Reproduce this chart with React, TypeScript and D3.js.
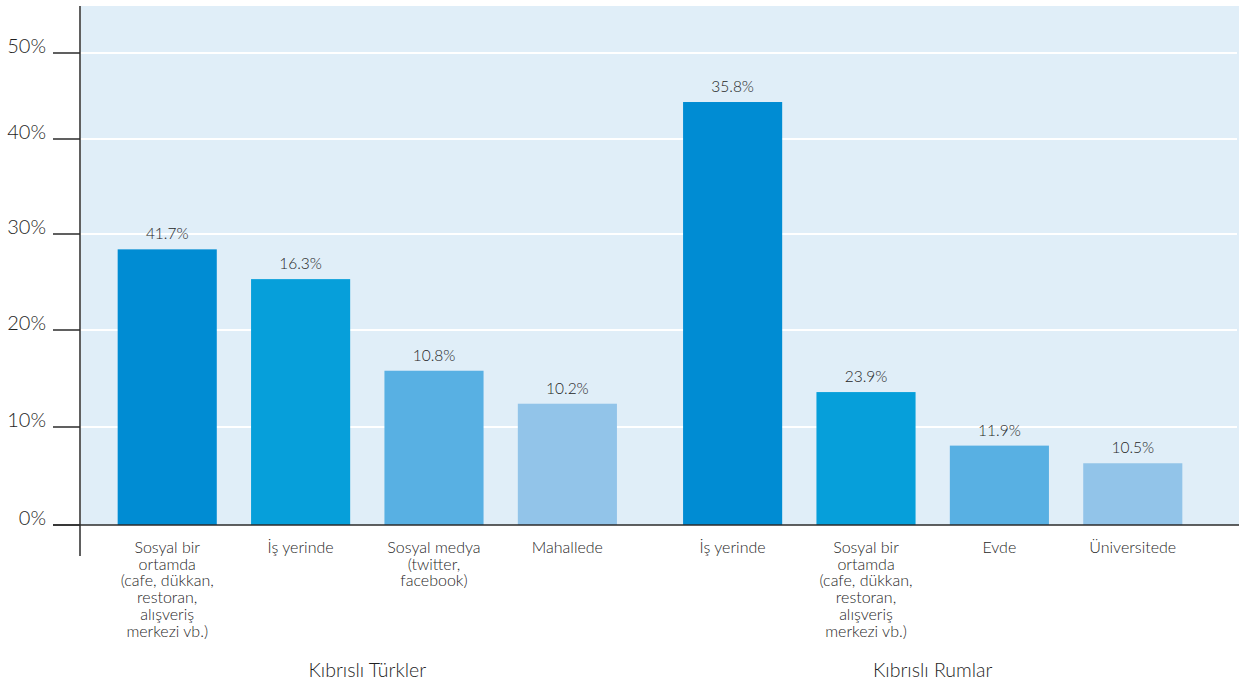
import React from "react";
import * as d3 from "d3";

const groups = ["Kıbrıslı Türkler", "Kıbrıslı Rumlar"];

const turkCategories = [
  ["Sosyal bir", "ortamda", "(cafe, dükkan,", "restoran,", "alışveriş", "merkezi vb.)"],
  ["İş yerinde"],
  ["Sosyal medya", "(twitter,", "facebook)"],
  ["Mahallede"],
];
const rumCategories = [
  ["İş yerinde"],
  ["Sosyal bir", "ortamda", "(cafe, dükkan,", "restoran,", "alışveriş", "merkezi vb.)"],
  ["Evde"],
  ["Üniversitede"],
];

// bar heights as drawn in the picture
const turkBarValues = [28.4, 25.3, 15.8, 12.4];
const rumBarValues = [44.3, 13.6, 8.1, 6.3];

// value labels as printed above the bars
const turkLabels = ["41.7%", "16.3%", "10.8%", "10.2%"];
const rumLabels = ["35.8%", "23.9%", "11.9%", "10.5%"];

const yTicks = [0, 10, 20, 30, 40, 50];
const yTickPixels = [525, 427, 330, 234, 139, 53];

const barColors = ["#008cd3", "#069fda", "#58b0e3", "#92c4e9"];

const W = 1243;
const H = 684;
const FONT = "Lato, 'Open Sans', sans-serif";
const TEXT = "#1f1f1f";

export default function App() {
  const plotLeft = 81;
  const plotRight = 1239;
  const plotTop = 6;

  const y = d3.scaleLinear().domain(yTicks).range(yTickPixels);
  const outer = d3.scaleBand<string>().domain(groups).range([101, 1199]).paddingInner(0.058);
  const inner = d3
    .scaleBand<number>()
    .domain([0, 1, 2, 3])
    .range([0, outer.bandwidth()])
    .paddingInner(0.257)
    .paddingOuter(0.125);

  const groupData = [
    { name: groups[0], cats: turkCategories, values: turkBarValues, labels: turkLabels },
    { name: groups[1], cats: rumCategories, values: rumBarValues, labels: rumLabels },
  ];

  const y0 = y(0);

  return (
    <div style={{ position: "absolute", left: 0, top: 0 }}>
      <svg width={W} height={H} style={{ display: "block" }} fontFamily={FONT} fontWeight={300}>
        <rect x={0} y={0} width={W} height={H} fill="#ffffff" />
        <rect x={plotLeft} y={plotTop} width={plotRight - plotLeft} height={y0 - plotTop} fill="#e0eef8" />
        {yTicks.slice(1).map((t) => (
          <line key={"g" + t} x1={plotLeft} x2={plotRight - 2} y1={y(t)} y2={y(t)} stroke="#ffffff" strokeWidth={2} />
        ))}
        {groupData.map((g) => {
          const gx = outer(g.name) as number;
          return (
            <g key={g.name}>
              {g.values.map((v, i) => {
                const bx = gx + (inner(i) as number);
                const bw = inner.bandwidth();
                const cx = bx + bw / 2;
                return (
                  <g key={i}>
                    <rect x={bx} y={y(v)} width={bw} height={y0 - y(v)} fill={barColors[i]} />
                    <text x={cx} y={y(v) - 10} textAnchor="middle" fontSize={15.5} fill={TEXT}>
                      {g.labels[i]}
                    </text>
                    <text textAnchor="middle" fontSize={16} fill={TEXT}>
                      {g.cats[i].map((line, k) => (
                        <tspan key={k} x={cx} y={553 + k * 16.7}>
                          {line}
                        </tspan>
                      ))}
                    </text>
                  </g>
                );
              })}
              <text
                x={gx + outer.bandwidth() / 2}
                y={677}
                textAnchor="middle"
                fontSize={19.5}
                fill={TEXT}
              >
                {g.name}
              </text>
            </g>
          );
        })}
        {/* axes */}
        <line x1={53} x2={plotRight} y1={y0} y2={y0} stroke="#2b2b2b" strokeWidth={1.5} />
        <line x1={80} x2={80} y1={plotTop} y2={556} stroke="#2b2b2b" strokeWidth={1.5} />
        {yTicks.map((t) => (
          <g key={"t" + t}>
            <line x1={53} x2={80} y1={y(t)} y2={y(t)} stroke="#2b2b2b" strokeWidth={1.5} />
            <text x={46} y={y(t)} textAnchor="end" fontSize={20} fill={TEXT}>
              {t + "%"}
            </text>
          </g>
        ))}
      </svg>
    </div>
  );
}
